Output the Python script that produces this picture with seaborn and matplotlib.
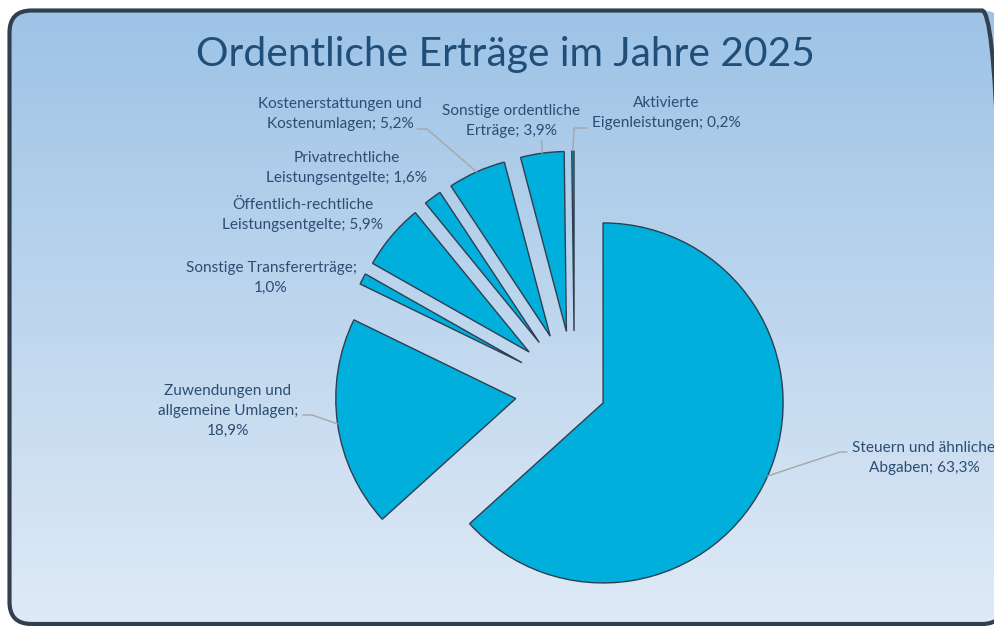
import numpy as np
import seaborn as sns
import matplotlib
matplotlib.use("Agg")
import matplotlib.pyplot as plt
from matplotlib.patches import FancyBboxPatch
from matplotlib.colors import LinearSegmentedColormap

sns.set_theme(style="white")
plt.rcParams['font.family'] = ['Lato', 'DejaVu Sans']

# data
names = ["Steuern und ähnliche\nAbgaben", "Zuwendungen und\nallgemeine Umlagen", "Sonstige Transfererträge",
         "Öffentlich-rechtliche\nLeistungsentgelte", "Privatrechtliche\nLeistungsentgelte",
         "Kostenerstattungen und\nKostenumlagen", "Sonstige ordentliche\nErträge", "Aktivierte\nEigenleistungen"]
shares = [63.3, 18.9, 1.0, 5.9, 1.6, 5.2, 3.9, 0.2]
title = "Ordentliche Erträge im Jahre 2025"

# layout (pixels, y from top)
W, H = 995, 626
seps = ["; ", ";\n", ";\n", "; ", "; ", "; ", "; ", "; "]
explode = [31.4, 59.2, 59.2, 59.2, 59.2, 59.2, 59.2, 59.2]
label_pos = [(924, 458), (228, 411), (271, 278), (303, 215), (347, 168), (340, 114), (511, 121), (666, 113)]
# leader lines: points after the arc anchor (None = no line)
leaders = [[(840, 452), (847, 452)], [(312, 415), (303, 415)], None, None, None,
           [(427, 129), (417, 129)], [(541.5, 140)], [(574, 128), (587, 128)]]

fill = sns.color_palette(["#00afdb"])[0]
edge = "#2f3e50"
txt_col = "#2e4d73"

fig = plt.figure(figsize=(W / 100, H / 100), dpi=100)
fig.patch.set_facecolor("white")
ax = fig.add_axes([0, 0, 1, 1])

# background panel with gradient
x0, x1, ytop, ybot = 9.5, 1004, 10.5, 624
frame = FancyBboxPatch((x0, H - ybot), x1 - x0, ybot - ytop, boxstyle="round,pad=0,rounding_size=22",
                       facecolor="none", edgecolor="#323f4f", linewidth=3, zorder=5)
grad = np.linspace(0, 1, 256).reshape(-1, 1)
cmap = LinearSegmentedColormap.from_list("bg", ["#9dc3e6", "#dfeaf6"])
img = ax.imshow(grad, cmap=cmap, extent=(x0, x1, H - ybot, H - ytop), origin="upper", aspect="auto", zorder=0)
clip = FancyBboxPatch((x0, H - ybot), x1 - x0, ybot - ytop, boxstyle="round,pad=0,rounding_size=22",
                      facecolor="none", edgecolor="none", transform=ax.transData)
ax.add_patch(clip)
img.set_clip_path(clip)
ax.add_patch(frame)

wedges, _ = ax.pie(shares, radius=180, center=(574.4, H - 390.2), startangle=90, counterclock=False,
                   explode=explode, colors=[fill] * len(shares),
                   wedgeprops=dict(edgecolor=edge, linewidth=1.0, zorder=2))

for w, name, sep, v, pos, lead in zip(wedges, names, seps, shares, label_pos, leaders):
    pct = f"{v:.1f}".replace(".", ",") + "%"
    ax.text(pos[0], H - pos[1], name + sep + pct, ha="center", va="center", multialignment="center",
            fontsize=11.1, color=txt_col, linespacing=1.5, zorder=4)
    if lead is not None:
        mid = np.deg2rad((w.theta1 + w.theta2) / 2)
        cx, cy = w.center
        pts = [(cx + w.r * np.cos(mid), cy + w.r * np.sin(mid))] + [(p[0], H - p[1]) for p in lead]
        xs, ys = zip(*pts)
        ax.plot(xs, ys, color="#a6a6a6", linewidth=1.0, zorder=3)

ax.text(505, H - 54, title, ha="center", va="center", fontsize=29.3,
        color="#1f4e79", zorder=4)

ax.set_xlim(0, W)
ax.set_ylim(0, H)
ax.set_aspect("equal")
ax.axis("off")

fig.savefig("out.png", dpi=100)
